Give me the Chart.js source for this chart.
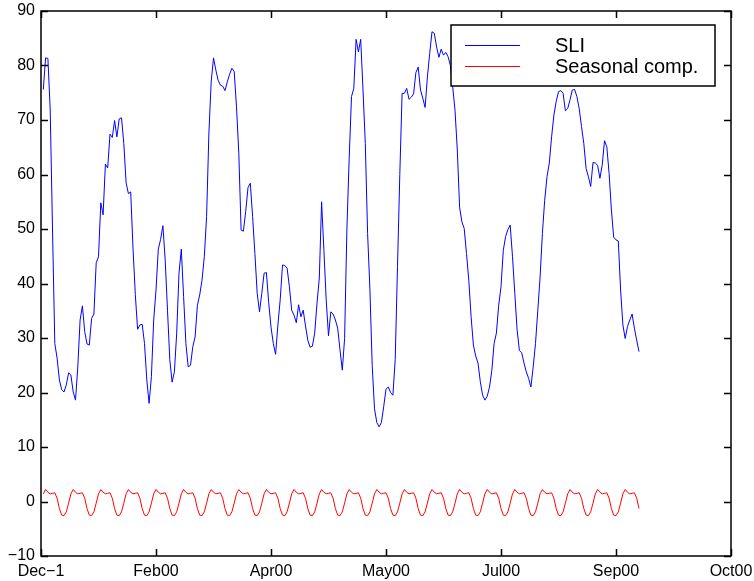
<!DOCTYPE html>
<html>
<head>
<meta charset="utf-8">
<script src="https://cdn.jsdelivr.net/npm/chart.js@4.4.1/dist/chart.umd.min.js"></script>
<style>
  html, body { margin: 0; padding: 0; background: #fff; }
  #wrap { width: 754px; height: 581px; }
</style>
</head>
<body>
<div id="wrap"><canvas id="chart" width="754" height="581"></canvas></div>
<script>
const xTickLabels = ['Dec\u22121', 'Feb00', 'Apr00', 'May00', 'Jul00', 'Sep00', 'Oct00']
const xMin = 0
const xMax = 300
const xStep = 50
const yMin = -10
const yMax = 90
const yStep = 10

const seriesNames = ['SLI', 'Seasonal comp.']

const sliValues = [
  75.6, 81.4, 81.3, 72, 50, 29, 26.3, 22.3, 20.5, 20.1,
  21.4, 23.6, 23.2, 20.1, 18.6, 24.7, 33.3, 35.9, 31.2, 28.9,
  28.7, 33.6, 34.4, 43.8, 44.9, 54.8, 52.6, 61.9, 61.2, 67.4,
  66.8, 69.9, 66.9, 70.2, 70.4, 65.7, 58.5, 56.5, 56.8, 46.5,
  38, 31.6, 32.4, 32.5, 29, 22.3, 18, 22.9, 33.3, 38.8,
  46.3, 48.1, 50.6, 44.3, 35.1, 26, 21.9, 23.8, 30.9, 41.9,
  46.3, 37.6, 29, 24.7, 25, 28.4, 30.2, 36, 37.9, 40.6,
  44.9, 52.3, 67.6, 77, 81.4, 79.2, 77.3, 76.4, 76.2, 75.4,
  77, 78.4, 79.5, 78.9, 72.4, 63.9, 49.8, 49.6, 53.2, 57.6,
  58.4, 52.3, 45.5, 38.2, 34.8, 38.2, 41.9, 42, 36.5, 32,
  29, 27, 32.4, 37, 43.4, 43.3, 42.8, 39.4, 35.1, 34.2,
  32.8, 36.1, 33.9, 35.1, 32.2, 29.6, 28.3, 28.5, 30.9, 36.4,
  41, 55, 46.1, 37, 30.4, 34.8, 34.4, 33.3, 31.8, 27.8,
  24.1, 29.9, 50, 63, 74.3, 75.8, 84.8, 82.5, 84.8, 75.5,
  65.7, 49.2, 39, 25, 17, 14.5, 13.7, 14.5, 17.4, 20.6,
  21, 20, 19.5, 26, 43.1, 60, 74.9, 74.9, 75.8, 73.8,
  74.2, 74.8, 78.7, 79.7, 75.5, 74, 72.3, 77.9, 82.2, 86.2,
  85.9, 83.4, 81.5, 83, 81.9, 82.4, 81.6, 80, 76.1, 71.8,
  64.5, 54, 51.3, 50.1, 45.5, 40.6, 33.9, 28.7, 26.7, 25.4,
  22, 19.5, 18.6, 19.3, 21, 24, 29, 30.9, 36, 39.4,
  46.1, 48.6, 49.9, 50.7, 44.9, 38.2, 31.5, 27.7, 27.3, 25.4,
  23.8, 22.6, 21, 24.7, 29, 35.1, 41.2, 49.2, 55.3, 59.6,
  62.1, 66.9, 70.9, 73.4, 75.2, 75.4, 74.9, 71.7, 72.1, 73.7,
  75.5, 75.6, 74.3, 72.1, 68.8, 65.7, 61.1, 59.6, 57.8, 62.2,
  62.1, 61.7, 59.3, 61.7, 66.2, 65.1, 60.2, 53.5, 48.5, 48,
  47.8, 38.8, 32.4, 29.9, 32.1, 33.3, 34.4, 31.8, 29.6, 27.5
]

const seasonalValues = [
  1.4,
  2.2, 1.7, 1.4, 1.5, 1.6, 0.6, -1.3, -2.5, -2.6, -1.9, -0.3, 1.4,
  2.2, 1.7, 1.4, 1.5, 1.6, 0.6, -1.3, -2.5, -2.6, -1.9, -0.3, 1.4,
  2.2, 1.7, 1.4, 1.5, 1.6, 0.6, -1.3, -2.5, -2.6, -1.9, -0.3, 1.4,
  2.2, 1.7, 1.4, 1.5, 1.6, 0.6, -1.3, -2.5, -2.6, -1.9, -0.3, 1.4,
  2.2, 1.7, 1.4, 1.5, 1.6, 0.6, -1.3, -2.5, -2.6, -1.9, -0.3, 1.4,
  2.2, 1.7, 1.4, 1.5, 1.6, 0.6, -1.3, -2.5, -2.6, -1.9, -0.3, 1.4,
  2.2, 1.7, 1.4, 1.5, 1.6, 0.6, -1.3, -2.5, -2.6, -1.9, -0.3, 1.4,
  2.2, 1.7, 1.4, 1.5, 1.6, 0.6, -1.3, -2.5, -2.6, -1.9, -0.3, 1.4,
  2.2, 1.7, 1.4, 1.5, 1.6, 0.6, -1.3, -2.5, -2.6, -1.9, -0.3, 1.4,
  2.2, 1.7, 1.4, 1.5, 1.6, 0.6, -1.3, -2.5, -2.6, -1.9, -0.3, 1.4,
  2.2, 1.7, 1.4, 1.5, 1.6, 0.6, -1.3, -2.5, -2.6, -1.9, -0.3, 1.4,
  2.2, 1.7, 1.4, 1.5, 1.6, 0.6, -1.3, -2.5, -2.6, -1.9, -0.3, 1.4,
  2.2, 1.7, 1.4, 1.5, 1.6, 0.6, -1.3, -2.5, -2.6, -1.9, -0.3, 1.4,
  2.2, 1.7, 1.4, 1.5, 1.6, 0.6, -1.3, -2.5, -2.6, -1.9, -0.3, 1.4,
  2.2, 1.7, 1.4, 1.5, 1.6, 0.6, -1.3, -2.5, -2.6, -1.9, -0.3, 1.4,
  2.2, 1.7, 1.4, 1.5, 1.6, 0.6, -1.3, -2.5, -2.6, -1.9, -0.3, 1.4,
  2.2, 1.7, 1.4, 1.5, 1.6, 0.6, -1.3, -2.5, -2.6, -1.9, -0.3, 1.4,
  2.2, 1.7, 1.4, 1.5, 1.6, 0.6, -1.3, -2.5, -2.6, -1.9, -0.3, 1.4,
  2.2, 1.7, 1.4, 1.5, 1.6, 0.6, -1.3, -2.5, -2.6, -1.9, -0.3, 1.4,
  2.2, 1.7, 1.4, 1.5, 1.6, 0.6, -1.3, -2.5, -2.6, -1.9, -0.3, 1.4,
  2.2, 1.7, 1.4, 1.5, 1.6, 0.6, -1.3, -2.5, -2.6, -1.9, -0.3, 1.4,
  2.2, 1.7, 1.4, 1.5, 1.6, 0.6, -1.3
]

const FONT = '"Liberation Sans", Arial, Helvetica, sans-serif'

// x positions are just the sample number, 1..N
const toPoints = (arr) => arr.map((v, i) => ({ x: i + 1, y: v }))

// matlab style box with inward ticks on all four sides
const boxTicks = {
  id: 'boxTicks',
  afterDraw(chart) {
    const { ctx, chartArea: a, scales } = chart
    const len = 7
    ctx.save()
    ctx.strokeStyle = '#000'
    ctx.lineWidth = 1.5
    ctx.beginPath()
    scales.x.ticks.forEach(t => {
      const px = Math.round(scales.x.getPixelForValue(t.value)) + 0.5
      ctx.moveTo(px, a.bottom); ctx.lineTo(px, a.bottom - len)
      ctx.moveTo(px, a.top); ctx.lineTo(px, a.top + len)
    })
    scales.y.ticks.forEach(t => {
      const py = Math.round(scales.y.getPixelForValue(t.value)) + 0.5
      ctx.moveTo(a.left, py); ctx.lineTo(a.left + len, py)
      ctx.moveTo(a.right, py); ctx.lineTo(a.right - len, py)
    })
    ctx.stroke()
    ctx.strokeRect(a.left, a.top, a.right - a.left, a.bottom - a.top)
    ctx.restore()
  }
}

// legend box in the top right corner of the axes
const boxLegend = {
  id: 'boxLegend',
  afterDatasetsDraw(chart) {
    const { ctx } = chart
    const x = 451, y = 25, w = 264, h = 61
    ctx.save()
    ctx.fillStyle = '#fff'
    ctx.fillRect(x, y, w, h)
    ctx.strokeStyle = '#000'
    ctx.lineWidth = 1.5
    ctx.strokeRect(x, y, w, h)
    ctx.font = '20px ' + FONT
    ctx.textBaseline = 'middle'
    chart.data.datasets.forEach((ds, i) => {
      const ly = 45 + i * 21
      ctx.strokeStyle = ds.borderColor
      ctx.lineWidth = 1
      ctx.beginPath()
      ctx.moveTo(465, ly + 0.5)
      ctx.lineTo(520, ly + 0.5)
      ctx.stroke()
      ctx.fillStyle = '#000'
      ctx.fillText(ds.label, 555, ly + 1)
    })
    ctx.restore()
  }
}

new Chart(document.getElementById('chart'), {
  type: 'line',
  data: {
    datasets: [
      {
        label: seriesNames[0],
        data: toPoints(sliValues),
        borderColor: '#0000ff',
        borderWidth: 1,
        pointRadius: 0,
        tension: 0
      },
      {
        label: seriesNames[1],
        data: toPoints(seasonalValues),
        borderColor: '#ff0000',
        borderWidth: 1,
        pointRadius: 0,
        tension: 0
      }
    ]
  },
  options: {
    responsive: false,
    animation: false,
    layout: { padding: { top: 11, right: 23, left: 0, bottom: 0 } },
    plugins: {
      legend: { display: false },
      tooltip: { enabled: false }
    },
    scales: {
      x: {
        type: 'linear',
        min: xMin,
        max: xMax,
        afterFit(scale) {
          scale.height = 25
          scale.paddingLeft = 0
          scale.paddingRight = 0
        },
        grid: { display: false, drawTicks: false },
        border: { display: false },
        ticks: {
          stepSize: xStep,
          padding: 6,
          color: '#000',
          font: { family: FONT, size: 16 },
          maxRotation: 0,
          callback: (v) => xTickLabels[Math.round((v - xMin) / xStep)]
        }
      },
      y: {
        min: yMin,
        max: yMax,
        afterFit(scale) {
          scale.width = 41
          scale.paddingTop = 0
          scale.paddingBottom = 0
        },
        grid: { display: false, drawTicks: false },
        border: { display: false },
        ticks: {
          stepSize: yStep,
          padding: 6,
          color: '#000',
          font: { family: FONT, size: 16 },
          callback: (v) => v < 0 ? '\u2212' + Math.abs(v) : String(v)
        }
      }
    }
  },
  plugins: [boxTicks, boxLegend]
})
</script>
</body>
</html>
